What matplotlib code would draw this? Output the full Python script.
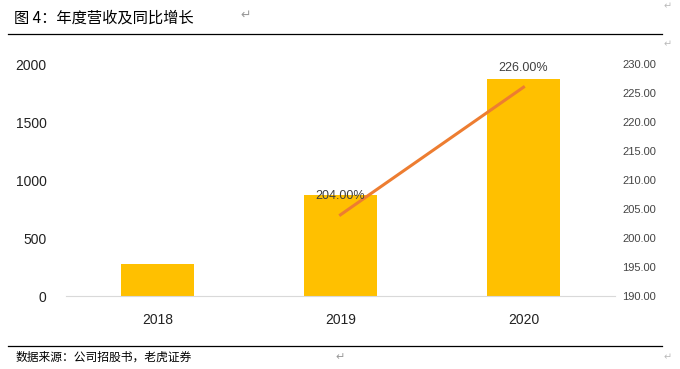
import matplotlib.pyplot as plt
import numpy as np

plt.rcParams['font.family'] = ['Liberation Sans', 'Noto Sans CJK SC', 'DejaVu Sans']

years = ["2018", "2019", "2020"]
revenue = [276, 871, 1871]
growth_years = ["2019", "2020"]
growth = [204.00, 226.00]

left_ticks = [0, 500, 1000, 1500, 2000]
right_ticks = [190, 195, 200, 205, 210, 215, 220, 225, 230]

fig = plt.figure(figsize=(6.8, 3.69), dpi=100)
ax = fig.add_axes([66 / 680, 1 - 296 / 369, 549 / 680, 232 / 369])
x = np.arange(len(years))
ax.bar(x, revenue, width=0.4, color="#FFC000", zorder=2)
ax.set_xlim(-0.5, 2.5)
ax.set_ylim(0, 2000)
ax.set_yticks(left_ticks)
ax.set_xticks(x)
ax.set_xticklabels(years)
for s in ["top", "left", "right"]:
    ax.spines[s].set_visible(False)
ax.spines["bottom"].set_color("#D9D9D9")
ax.spines["bottom"].set_linewidth(0.8)
ax.tick_params(axis="both", length=0, labelsize=10, colors="#222222")
ax.tick_params(axis="y", pad=14)
ax.tick_params(axis="x", pad=12)

ax2 = ax.twinx()
gx = [years.index(y) for y in growth_years]
ax2.plot(gx, growth, color="#ED7D31", linewidth=2.2, zorder=3)
ax2.set_ylim(190, 230)
ax2.set_yticks(right_ticks)
ax2.set_yticklabels([f"{t:.2f}" for t in right_ticks])
ax2.tick_params(axis="y", length=0, labelsize=8, colors="#444444", pad=5)
for s in ["top", "left", "right", "bottom"]:
    ax2.spines[s].set_visible(False)
for xi, g in zip(gx, growth):
    ax2.annotate(f"{g:.2f}%", (xi, g), xytext=(0, 13.5), textcoords="offset points",
                 ha="center", va="center", fontsize=9, color="#404040")

# header / footer like a document page
fig.text(14 / 680, 1 - 18 / 369, "图 4：年度营收及同比增长", fontsize=11,
         family=['Noto Sans CJK SC', 'DejaVu Sans'], va="center", ha="left")
fig.text(240 / 680, 1 - 15 / 369, "↵", fontsize=9, color="#999999", va="center",
         family=['DejaVu Sans'])
fig.text(16 / 680, 1 - 357 / 369, "数据来源：公司招股书，老虎证券", fontsize=8.5,
         family=['Noto Sans CJK SC', 'DejaVu Sans'], va="center", ha="left")
fig.text(335 / 680, 1 - 357 / 369, "↵", fontsize=8, color="#999999", va="center",
         family=['DejaVu Sans'])
for yy in [6, 44, 357]:
    fig.text(664 / 680, 1 - yy / 369, "↵", fontsize=7, color="#BBBBBB", va="center",
             family=['DejaVu Sans'])
fig.add_artist(plt.Line2D([8 / 680, 662 / 680], [1 - 34 / 369, 1 - 34 / 369],
                          color="black", linewidth=0.9))
fig.add_artist(plt.Line2D([8 / 680, 662 / 680], [1 - 346 / 369, 1 - 346 / 369],
                          color="black", linewidth=0.9))

fig.savefig("out.png", dpi=100)
